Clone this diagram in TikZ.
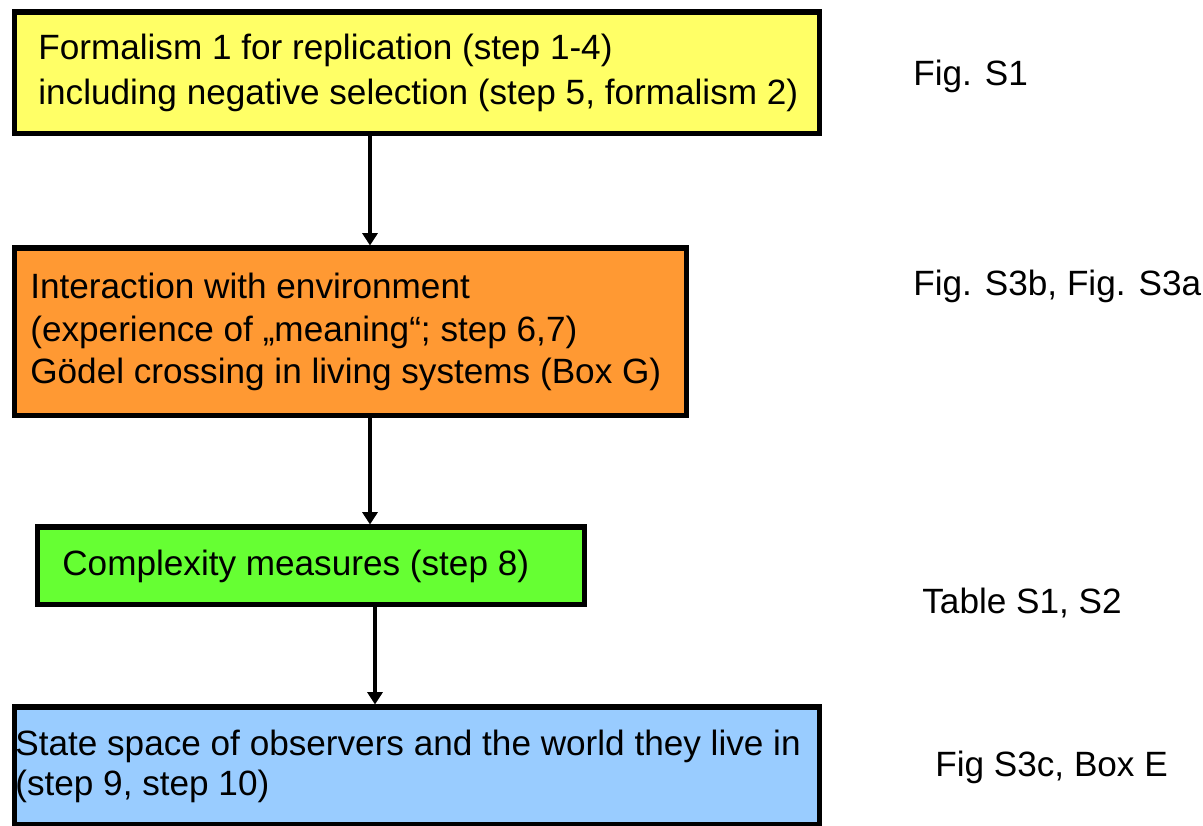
\documentclass[tikz,border=0pt]{standalone}
\usepackage{fontspec}
\setmainfont{Liberation Sans}
\usepackage{xcolor}
\usepackage{tikz}
\usetikzlibrary{arrows.meta,positioning}
\definecolor{boxyellow}{RGB}{255,255,102}
\definecolor{boxorange}{RGB}{255,153,51}
\definecolor{boxgreen}{RGB}{102,255,51}
\definecolor{boxblue}{RGB}{153,204,255}
\tikzstyle{block} = [rectangle, draw, line width=3.1pt, inner sep=0pt, anchor=north west]
\tikzstyle{txt} = [inner sep=0pt, align=left, font=\fontsize{20}{24}\selectfont]
\tikzstyle{note} = [inner sep=0pt, anchor=base west, font=\fontsize{20}{24}\selectfont]
\tikzstyle{link} = [->, line width=2.2pt]

\begin{document}
\begin{tikzpicture}[>={Triangle[width=8.5pt,length=7pt]}]
	\useasboundingbox (0,0) rectangle (24.06,-16.52);
	\coordinate (col1) at (7.4,0);
	\coordinate (col2) at (7.5,0);
	% boxes
	\node[block, fill=boxyellow, minimum width=16.1cm, minimum height=2.43cm] (a) at (0.24,-0.19) {};
	\node[txt, font=\fontsize{20}{25.5}\selectfont, right=0.52cm of a.west] (at) {Formalism 1 for replication (step 1-4)\\including negative selection (step 5, formalism 2)};
	\node[block, fill=boxorange, minimum width=13.43cm, minimum height=3.35cm] (b) at (0.24,-4.91) {};
	\node[txt, right=0.36cm of b.west] (bt) {Interaction with environment\\(experience of „meaning“; step 6,7)\\Gödel crossing in living systems (Box G)};
	\draw[link] (a.south -| col1) -- (b.north -| col1);
	\node[block, fill=boxgreen, minimum width=10.95cm, minimum height=1.55cm] (c) at (0.69,-10.49) {};
	\node[txt, right=0.55cm of c.west] (ct) {Complexity measures (step 8)};
	\draw[link] (b.south -| col1) -- (c.north -| col1);
	\node[block, fill=boxblue, minimum width=16.1cm, minimum height=2.35cm] (d) at (0.24,-14.09) {};
	\node[txt, font=\fontsize{20}{22.7}\selectfont, right=0.06cm of d.west] (dt) {State space of observers and the world they live in\\(step 9, step 10)};
	\draw[link] (c.south -| col2) -- (d.north -| col2);
	% references on the right
	\node[note] (na) at (18.26,-1.72) {Fig. S1};
	\node[note] (nb) at (18.26,-5.92) {Fig. S3b, Fig. S3a};
	\node[note] (nc) at (18.44,-12.28) {Table S1, S2};
	\node[note] (nd) at (18.70,-15.52) {Fig S3c, Box E};
\end{tikzpicture}
\end{document}
